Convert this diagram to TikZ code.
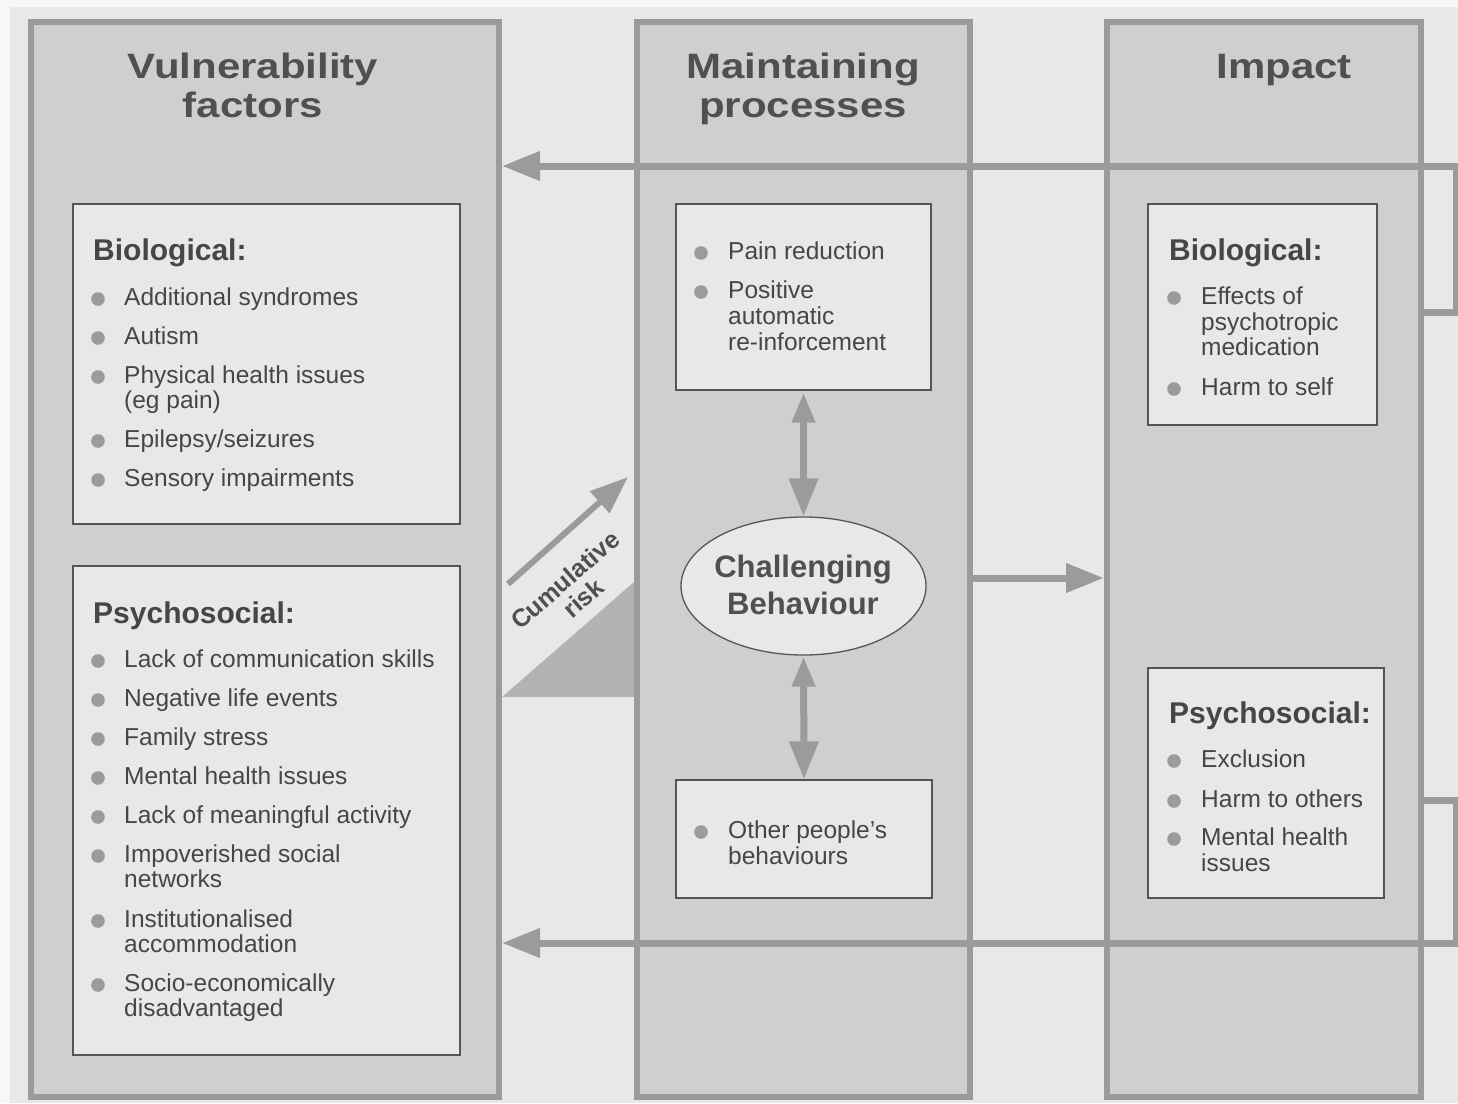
\documentclass[tikz,border=0pt]{standalone}
\usepackage{fontspec}
\setmainfont{Liberation Sans}
\usetikzlibrary{arrows.meta,shapes.geometric}
\definecolor{bgc}{HTML}{E8E8E8}
\definecolor{edgec}{HTML}{F7F7F7}
\definecolor{colc}{HTML}{CFCFCF}
\definecolor{bordc}{HTML}{9B9B9B}
\definecolor{boxc}{HTML}{E8E8E8}
\definecolor{boxd}{HTML}{555555}
\definecolor{txtc}{HTML}{464646}
\definecolor{titc}{HTML}{505050}
\definecolor{tric}{HTML}{B3B3B3}
\tikzset{
 colbox/.style={draw=bordc, fill=colc, line width=6pt, inner sep=0pt, rectangle},
 inbox/.style={draw=boxd, fill=boxc, line width=1.3pt, inner sep=0pt, rectangle},
 itemtxt/.style={font=\fontsize{24.5}{25.5}\selectfont, text=txtc, inner sep=0pt, anchor=base west},
 headtxt/.style={font=\fontsize{30}{32}\selectfont\bfseries, text=txtc, inner sep=0pt, anchor=base west},
 titletxt/.style={font=\fontsize{42}{44}\selectfont\bfseries, text=titc, inner sep=0pt, anchor=base},
 cumtxt/.style={font=\fontsize{25}{26}\selectfont\bfseries, text=titc, rotate=41, inner sep=0pt},
 feed/.style={draw=bordc, line width=7pt, -{Triangle[length=38pt,width=28pt]}},
 dblarrow/.style={draw=bordc, line width=7pt, {Triangle[length=30pt,width=22pt]}-{Triangle[length=38pt,width=28pt]}},
}
\newcommand\myitem[5]{%
 \fill[bordc] (#1,#3-6) circle[radius=6.8pt];
 \node[itemtxt] (#4) at (#2,#3) {#5};}
\newcommand\myline[4]{\node[itemtxt] (#3) at (#1,#2) {#4};}
\newcommand\mytitle[4]{\node[titletxt] (#3) at (#1,#2) {\scalebox{1}[0.84]{#4}};}
\begin{document}
\begin{tikzpicture}[x=1pt,y=-1pt]
\useasboundingbox (0,0) rectangle (1458,1103);
\fill[edgec] (0,0) rectangle (1458,1103);
\fill[bgc] (10,7) rectangle (1458,1103);
% cumulative risk wedge
\fill[tric] (502,697) -- (634,697) -- (634,582) -- cycle;
% columns
\node[colbox, minimum width=468pt, minimum height=1075pt] (lcol) at (265,559.5) {};
\node[colbox, minimum width=333pt, minimum height=1075pt] (mcol) at (803.5,559.5) {};
\node[colbox, minimum width=314pt, minimum height=1075pt] (rcol) at (1264,559.5) {};
% inner boxes
\node[inbox, minimum width=387pt, minimum height=320pt] (lbio) at (266.5,364) {};
\node[inbox, minimum width=387pt, minimum height=489pt] (lpsy) at (266.5,810.5) {};
\node[inbox, minimum width=255pt, minimum height=186pt] (mtop) at (803.5,297) {};
\node[inbox, minimum width=256pt, minimum height=118pt] (mbot) at (804,839) {};
\node[inbox, minimum width=229pt, minimum height=221pt] (rbio) at (1262.5,314.5) {};
\node[inbox, minimum width=236pt, minimum height=230pt] (rpsy) at (1266,783) {};
\node[inbox, ellipse, minimum width=245pt, minimum height=138pt] (cb) at (803.5,586) {};
% feedback lines
\coordinate (ta) at (1456,312);
\coordinate (tb) at (1456,166);
\coordinate (ba) at (1456,800);
\coordinate (bb) at (1456,943);
\draw[feed] (rcol.east |- ta) -- (ta) -- (tb) -- (lcol.east |- tb);
\draw[feed] (rcol.east |- ba) -- (ba) -- (bb) -- (lcol.east |- bb);
% middle to impact
\coordinate (ma) at (0,578);
\draw[feed] (mcol.east |- ma) -- (rcol.west |- ma);
% double arrows
\draw[dblarrow, shorten <=2pt] (mtop.south) -- (cb.north);
\draw[dblarrow, shorten <=1pt] (cb.south) -- (mbot.north);
% cumulative risk arrow
\coordinate (ca1) at (508,584);
\coordinate (ca2) at (628,477);
\draw[draw=bordc, line width=6pt, -{Triangle[length=38pt,width=28pt]}] (ca1) -- (ca2);
\node[cumtxt] (cumr1) at (565,580) {Cumulative};
\node[cumtxt] (cumr2) at (583,598) {risk};
% titles
\mytitle{253}{78}{t1a}{Vulnerability}
\mytitle{253}{117}{t1b}{factors}
\mytitle{803}{78}{t2a}{Maintaining}
\mytitle{803}{117}{t2b}{processes}
\mytitle{1284}{78}{t3a}{Impact}
% ellipse text
\node[font=\fontsize{31}{37}\selectfont\bfseries, text=titc, align=center, inner sep=0pt] (cbt) at (803,585) {Challenging\\Behaviour};
% left biological
\node[headtxt] (h1) at (93,260) {Biological:};
\myitem{98}{124}{305}{l1}{Additional syndromes}
\myitem{98}{124}{344}{l2}{Autism}
\myitem{98}{124}{383}{l3}{Physical health issues}
\myline{124}{408}{l3b}{(eg pain)}
\myitem{98}{124}{447}{l4}{Epilepsy/seizures}
\myitem{98}{124}{486}{l5}{Sensory impairments}
% left psychosocial
\node[headtxt] (h2) at (93,623) {Psychosocial:};
\myitem{98}{124}{667}{p1}{Lack of communication skills}
\myitem{98}{124}{706}{p2}{Negative life events}
\myitem{98}{124}{745}{p3}{Family stress}
\myitem{98}{124}{784}{p4}{Mental health issues}
\myitem{98}{124}{823}{p5}{Lack of meaningful activity}
\myitem{98}{124}{862}{p6}{Impoverished social}
\myline{124}{887}{p6b}{networks}
\myitem{98}{124}{927}{p7}{Institutionalised}
\myline{124}{952}{p7b}{accommodation}
\myitem{98}{124}{991}{p8}{Socio-economically}
\myline{124}{1016}{p8b}{disadvantaged}
% middle
\myitem{701}{728}{259}{m1}{Pain reduction}
\myitem{701}{728}{298}{m2}{Positive}
\myline{728}{324}{m2b}{automatic}
\myline{728}{350}{m2c}{re-inforcement}
\myitem{701}{728}{838}{m3}{Other people’s}
\myline{728}{864}{m3b}{behaviours}
% right biological
\node[headtxt] (h3) at (1169,260) {Biological:};
\myitem{1174}{1201}{304}{r1}{Effects of}
\myline{1201}{330}{r1b}{psychotropic}
\myline{1201}{355}{r1c}{medication}
\myitem{1174}{1201}{395}{r2}{Harm to self}
% right psychosocial
\node[headtxt] (h4) at (1169,723) {Psychosocial:};
\myitem{1174}{1201}{767}{s1}{Exclusion}
\myitem{1174}{1201}{807}{s2}{Harm to others}
\myitem{1174}{1201}{845}{s3}{Mental health}
\myline{1201}{871}{s3b}{issues}
\end{tikzpicture}
\end{document}
